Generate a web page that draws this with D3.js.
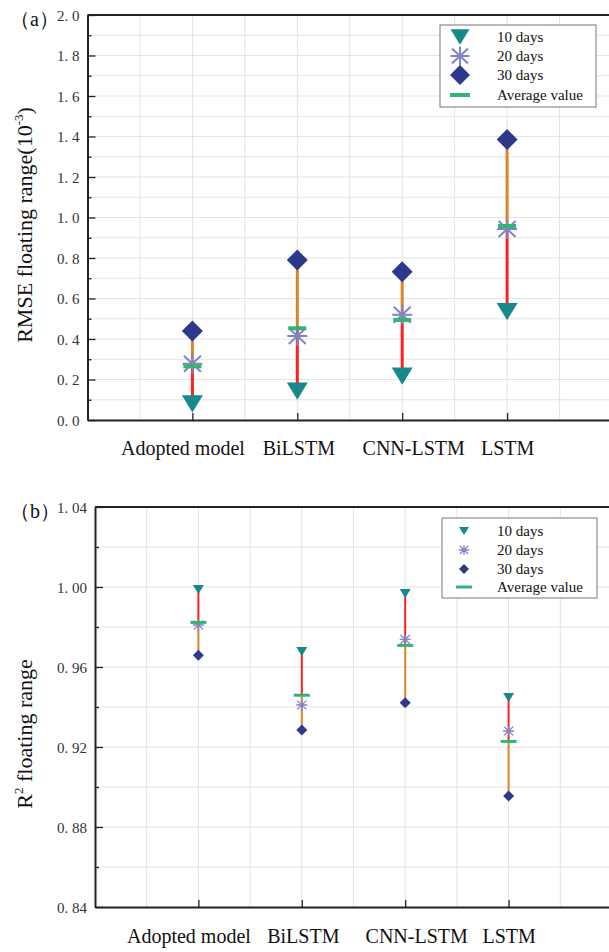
<!DOCTYPE html>
<html><head><meta charset="utf-8">
<script src="https://cdn.jsdelivr.net/npm/d3@7"></script>
<style>body{margin:0;background:#fff}svg{display:block}</style>
</head><body><svg id="c" width="609" height="952"></svg>
<script>
// ---------- data ----------
const categories = ["Adopted model", "BiLSTM", "CNN-LSTM", "LSTM"];
const legendLabels = ["10 days", "20 days", "30 days", "Average value"];

const rmse10  = [0.080, 0.143, 0.217, 0.535];
const rmse20  = [0.278, 0.415, 0.520, 0.943];
const rmse30  = [0.440, 0.790, 0.732, 1.385];
const rmseAvg = [0.265, 0.453, 0.494, 0.958];
const rmseMajorTicks = [0, 0.2, 0.4, 0.6, 0.8, 1.0, 1.2, 1.4, 1.6, 1.8, 2.0];

const r2_10  = [0.9988, 0.9677, 0.9968, 0.9448];
const r2_20  = [0.9810, 0.9410, 0.9738, 0.9280];
const r2_30  = [0.9659, 0.9285, 0.9421, 0.8955];
const r2Avg  = [0.9823, 0.9459, 0.9708, 0.9228];
const r2MajorTicks = [0.84, 0.88, 0.92, 0.96, 1.00, 1.04];

// ---------- styles ----------
const C = {tri:"#17898d", star:"#7f84c4", dia:"#2d3a8c", avg:"#34b474", red:"#ff1f1f", orange:"#d9842b", grid:"#e3e3e3"};
const SERIF = "'Liberation Serif','Times New Roman',serif";
const LABEL_SHIFT = [-10, 1, 11, 0]; // horizontal nudge of category labels (px)

// custom symbols (size = width^2)
const symTriDown = {draw(ctx, size){const w=Math.sqrt(size), h=w*0.82;
  ctx.moveTo(-w/2,-h/2); ctx.lineTo(w/2,-h/2); ctx.lineTo(0,h/2); ctx.closePath();}};
const symDiamond = {draw(ctx, size){const w=Math.sqrt(size)/2;
  ctx.moveTo(0,-w); ctx.lineTo(w,0); ctx.lineTo(0,w); ctx.lineTo(-w,0); ctx.closePath();}};
const symStar = {draw(ctx, size){const r=Math.sqrt(size)/2;
  ctx.moveTo(0,-r); ctx.lineTo(0,r);
  ctx.moveTo(-r,0); ctx.lineTo(r,0);
  ctx.moveTo(-r*0.85,-r*0.8); ctx.lineTo(r*0.85,r*0.8);
  ctx.moveTo(-r*0.85,r*0.8); ctx.lineTo(r*0.85,-r*0.8);}};

const svg = d3.select("#c");

function drawPanel(o){
  const g = svg.append("g");
  const x = d3.scalePoint().domain(categories).range([o.left, o.right]).padding(1);
  const gx = d3.scaleLinear().domain([0,10]).range([o.left, o.right]);
  const y = d3.scaleLinear().domain(o.domain).range([o.bottom, o.top]);

  // grid
  g.append("g").selectAll("line").data(d3.range(1,10)).join("line")
    .attr("x1", d=>gx(d)).attr("x2", d=>gx(d)).attr("y1", o.top).attr("y2", o.bottom)
    .attr("stroke", C.grid).attr("stroke-width", 1);
  g.append("g").selectAll("line").data(o.gridVals).join("line")
    .attr("x1", o.left).attr("x2", o.right).attr("y1", d=>y(d)).attr("y2", d=>y(d))
    .attr("stroke", C.grid).attr("stroke-width", 1);

  // top / right border
  g.append("path").attr("d", `M${o.left},${o.top}H${o.right}V${o.bottom}`)
    .attr("fill","none").attr("stroke","#222").attr("stroke-width",2);

  // minor y ticks
  g.append("g").attr("transform",`translate(${o.left},0)`)
    .call(d3.axisLeft(y).tickValues(o.minorTicks).tickSize(-4).tickSizeOuter(0).tickFormat(""))
    .call(s=>s.select(".domain").remove())
    .call(s=>s.selectAll("line").attr("stroke","#222").attr("stroke-width",1.3));

  // major y axis
  g.append("g").attr("transform",`translate(${o.left},0)`)
    .call(d3.axisLeft(y).tickValues(o.majorTicks).tickSize(-8).tickSizeOuter(0).tickPadding(8)
      .tickFormat(d=>d3.format(o.fmt)(d).replace(".", ". ")))
    .call(s=>s.select(".domain").attr("stroke","#222").attr("stroke-width",2))
    .call(s=>s.selectAll("line").attr("stroke","#222").attr("stroke-width",1.3))
    .call(s=>s.selectAll("text").attr("font-family",SERIF).attr("font-size",15).attr("fill","#333").attr("dy","0.35em"));

  // x axis
  g.append("g").attr("transform",`translate(0,${o.bottom})`)
    .call(d3.axisBottom(x).tickSize(-7).tickSizeOuter(0).tickPadding(0))
    .call(s=>s.select(".domain").attr("stroke","#222").attr("stroke-width",2))
    .call(s=>s.selectAll("line").attr("stroke","#222").attr("stroke-width",1.3))
    .call(s=>s.selectAll("text").attr("font-family",SERIF).attr("font-size",20).attr("fill","#111")
       .attr("y", o.xLabelOffset).attr("dy", 0).attr("dx", (d,i)=>LABEL_SHIFT[i]));

  // range lines
  const idx = d3.range(categories.length);
  const cat = i=>x(categories[i]);
  g.append("g").selectAll("line").data(idx).join("line")
    .attr("x1", i=>cat(i)).attr("x2", i=>cat(i))
    .attr("y1", i=>y(o.s10[i])).attr("y2", i=>y(o.avg[i]))
    .attr("stroke", C.red).attr("stroke-width", o.lw);
  g.append("g").selectAll("line").data(idx).join("line")
    .attr("x1", i=>cat(i)).attr("x2", i=>cat(i))
    .attr("y1", i=>y(o.avg[i])).attr("y2", i=>y(o.s30[i]))
    .attr("stroke", C.orange).attr("stroke-width", o.lw);

  // markers
  const mk = o.mk;
  g.append("g").selectAll("path").data(idx).join("path")
    .attr("transform", i=>`translate(${cat(i)},${y(o.s30[i])})`)
    .attr("d", d3.symbol().type(symDiamond).size(mk.dia*mk.dia)).attr("fill", C.dia);
  g.append("g").selectAll("path").data(idx).join("path")
    .attr("transform", i=>`translate(${cat(i)},${y(o.s10[i])})`)
    .attr("d", d3.symbol().type(symTriDown).size(mk.tri*mk.tri)).attr("fill", C.tri);
  g.append("g").selectAll("path").data(idx).join("path")
    .attr("transform", i=>`translate(${cat(i)},${y(o.s20[i])})`)
    .attr("d", d3.symbol().type(symStar).size(mk.star*mk.star))
    .attr("fill","none").attr("stroke", C.star).attr("stroke-width", mk.starW);
  g.append("g").selectAll("rect").data(idx).join("rect")
    .attr("x", i=>cat(i)-mk.avgW/2).attr("y", i=>y(o.avg[i])-mk.avgH/2)
    .attr("width", mk.avgW).attr("height", mk.avgH).attr("fill", C.avg);

  // legend
  const L = o.legend;
  const lg = g.append("g");
  lg.append("rect").attr("x",L.x).attr("y",L.y).attr("width",L.w).attr("height",L.h)
    .attr("fill","#fff").attr("stroke","#777").attr("stroke-width",1);
  legendLabels.forEach((lab,k)=>{
    const cy = L.rows[k];
    if(k===0) lg.append("path").attr("transform",`translate(${L.sx},${cy})`)
      .attr("d", d3.symbol().type(symTriDown).size(L.tri*L.tri)).attr("fill",C.tri);
    if(k===1) lg.append("path").attr("transform",`translate(${L.sx},${cy})`)
      .attr("d", d3.symbol().type(symStar).size(L.star*L.star)).attr("fill","none").attr("stroke",C.star).attr("stroke-width",mk.starW);
    if(k===2) lg.append("path").attr("transform",`translate(${L.sx},${cy})`)
      .attr("d", d3.symbol().type(symDiamond).size(L.dia*L.dia)).attr("fill",C.dia);
    if(k===3) lg.append("rect").attr("x",L.sx-L.avgW/2).attr("y",cy-mk.avgH/2)
      .attr("width",L.avgW).attr("height",mk.avgH).attr("fill",C.avg);
    lg.append("text").attr("x",L.tx).attr("y",cy+5).attr("font-family",SERIF)
      .attr("font-size",15).attr("fill","#111").text(lab);
  });

  // panel label
  g.append("text").attr("x",10).attr("y",o.top+11).attr("font-family",SERIF)
    .attr("font-size",20).attr("fill","#111").text(o.panel);

  // y title
  const t = g.append("text").attr("transform",`translate(32,${o.titleY}) rotate(-90)`)
    .attr("text-anchor","middle").attr("font-family",SERIF).attr("font-size",22).attr("fill","#111");
  o.title(t);
}

drawPanel({
  left:87.5, right:612, top:15, bottom:420, domain:[0,2],
  majorTicks: rmseMajorTicks,
  minorTicks: d3.range(1,20,2).map(v=>v/10),
  gridVals: d3.range(1,20).map(v=>v/10),
  fmt: ".1f", xLabelOffset: 35,
  s10: rmse10, s20: rmse20, s30: rmse30, avg: rmseAvg, lw: 3,
  mk: {dia:21, tri:21, star:20, starW:2, avgW:18, avgH:4},
  legend: {x:440, y:25, w:156, h:82, rows:[37,56,75,95], sx:460, tx:497, tri:19, star:19, dia:20, avgW:20},
  panel: "（a）", titleY: 225,
  title: t=>{ t.append("tspan").text("RMSE floating range(10");
    t.append("tspan").attr("font-size",13).attr("dy",-9).text("-3");
    t.append("tspan").attr("dy",9).text(")"); }
});

drawPanel({
  left:95, right:612, top:507, bottom:907, domain:[0.84,1.04],
  majorTicks: r2MajorTicks,
  minorTicks: [0.86, 0.90, 0.94, 0.98, 1.02],
  gridVals: [0.86,0.88,0.90,0.92,0.94,0.96,0.98,1.00,1.02],
  fmt: ".2f", xLabelOffset: 36,
  s10: r2_10, s20: r2_20, s30: r2_30, avg: r2Avg, lw: 2,
  mk: {dia:11, tri:11, star:11, starW:1.3, avgW:16, avgH:3},
  legend: {x:442, y:518, w:155, h:80, rows:[531,550,569,587], sx:464, tx:497, tri:10, star:10, dia:10, avgW:16},
  panel: "（b）", titleY: 734,
  title: t=>{ t.append("tspan").text("R");
    t.append("tspan").attr("font-size",13).attr("dy",-9).text("2");
    t.append("tspan").attr("dy",9).text(" floating range"); }
});
</script>
</body></html>
